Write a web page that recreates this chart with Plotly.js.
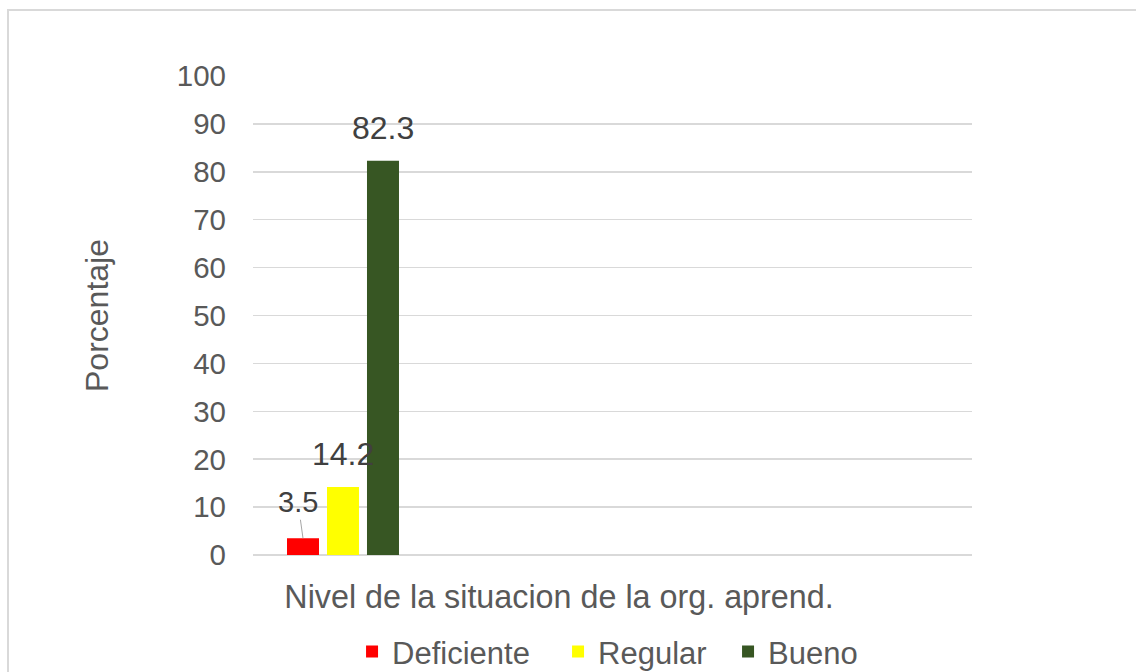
<!DOCTYPE html>
<html>
<head>
<meta charset="utf-8">
<script src="https://cdn.plot.ly/plotly-3.0.1.min.js"></script>
<style>html,body{margin:0;padding:0;background:#fff;}#chart{width:1136px;height:672px;}</style>
</head>
<body>
<div id="chart"></div>
<script>
const category = ["Nivel de la situacion de la org. aprend."];
const seriesNames = ["Deficiente", "Regular", "Bueno"];
const seriesValues = [3.5, 14.2, 82.3];
const seriesColors = ["#FF0000", "#FFFF00", "#375623"];
const yTicks = [0, 10, 20, 30, 40, 50, 60, 70, 80, 90, 100];

const legendWidths = [161, 125, 92];

const FONT = "Liberation Sans, Arial, sans-serif";
const TXT = "#595959";

const traces = seriesNames.map((n, i) => ({
  type: "bar",
  name: n,
  x: category,
  y: [seriesValues[i]],
  marker: {color: seriesColors[i]},
  legendwidth: legendWidths[i],
  hoverinfo: "skip"
}));

const annotations = seriesValues.map((v, i) => {
  const base = {
    x: category[0], y: v, xref: "x", yref: "y",
    text: v.toFixed(1),
    font: {family: FONT, size: 32, color: "#404040"}
  };
  if (i === 0) {
    return Object.assign(base, {
      xshift: -40, showarrow: true, arrowhead: 0, arrowwidth: 1,
      arrowcolor: "#a6a6a6", ax: -5, ay: -36, standoff: 0,
      font: {family: FONT, size: 29, color: "#404040"}
    });
  }
  return Object.assign(base, {
    xshift: (i - 1) * 40, yshift: 13, showarrow: false, yanchor: "bottom"
  });
});

const layout = {
  width: 1136, height: 672,
  margin: {l: 253, r: 164, t: 76, b: 117},
  paper_bgcolor: "#fff", plot_bgcolor: "#fff",
  barmode: "group", bargap: 0.5, bargroupgap: 0.2,
  showlegend: true,
  font: {family: FONT, color: TXT},
  xaxis: {
    type: "category",
    range: [-0.375, 2.621],
    showgrid: false, zeroline: false,
    showline: false,
    ticks: "",
    automargin: false,
    tickfont: {family: FONT, size: 32.3, color: TXT},
    ticklabelshift: 216,
    ticklabelstandoff: 20
  },
  yaxis: {
    range: [0, 100],
    tickvals: yTicks,
    ticktext: yTicks.map(String),
    showgrid: true, gridcolor: "#d9d9d9", gridwidth: 1.5,
    zeroline: true, zerolinecolor: "#d9d9d9", zerolinewidth: 1.5,
    showline: false, ticks: "",
    tickfont: {family: FONT, size: 29.5, color: TXT},
    ticklabelstandoff: 26,
    automargin: false,
    title: {text: "Porcentaje", font: {family: FONT, size: 32, color: TXT}, standoff: 58}
  },
  legend: {
    orientation: "h", xref: "paper", x: 0.4945, xanchor: "center",
    yref: "container", y: 0.03, yanchor: "middle",
    font: {family: FONT, size: 31, color: TXT},
    itemclick: false, itemdoubleclick: false
  },
  annotations: annotations,
  shapes: [{
    type: "rect", xref: "paper", yref: "paper",
    x0: (8 - 253) / 719, x1: (1150 - 253) / 719,
    y0: (555 - 690) / 479, y1: (555 - 10) / 479,
    line: {color: "#d9d9d9", width: 2}, fillcolor: "rgba(0,0,0,0)", layer: "below"
  }]
};

Plotly.newPlot("chart", traces, layout, {displayModeBar: false, staticPlot: true});
</script>
</body>
</html>
